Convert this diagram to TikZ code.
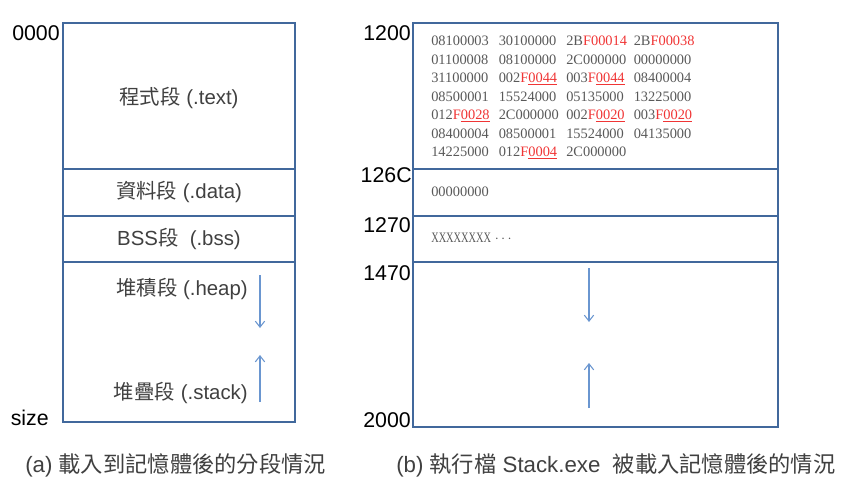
\documentclass[tikz,border=0pt]{standalone}
\usepackage{fontspec}
\setmainfont{Liberation Sans}
\newfontfamily\cjk{Noto Sans CJK TC}
\newfontfamily\hexfont{Liberation Serif}
\usetikzlibrary{arrows.meta}
\definecolor{boxblue}{HTML}{41689C}
\definecolor{arrblue}{HTML}{6A96D0}
\definecolor{hexgrey}{HTML}{595959}
\definecolor{hexred}{HTML}{F03535}
\definecolor{lblgrey}{HTML}{404040}
\newcommand\hexrf[1]{\textcolor{hexred}{#1}}
\newcommand\hexru[1]{\textcolor{hexred}{F\underline{#1}}}
\newcommand\zh[1]{{\cjk #1}}
\begin{document}
\begin{tikzpicture}[x=0.75pt,y=-0.75pt,
  seg/.style={draw=boxblue, line width=1.5pt},
  addr/.style={font=\fontsize{16}{19}\selectfont, anchor=base east, inner sep=0pt, text=black},
  lbl/.style={font=\fontsize{15.3}{18}\selectfont, text=lblgrey, inner sep=0pt},
  hex/.style={font=\hexfont\fontsize{10.8}{12}\selectfont, text=hexgrey, anchor=base west, inner sep=0pt},
  growarrow/.style={draw=arrblue, line width=0.8pt, -{Straight Barb[length=4.5pt,width=7pt]}},
  captiontext/.style={font=\fontsize{16.7}{19}\selectfont, text=lblgrey, inner sep=0pt, anchor=west}]
\useasboundingbox (0,0) rectangle (848,486);

% ---------- left memory map ----------
\draw[seg] (63,23) rectangle (295,169);
\draw[seg] (63,169) rectangle (295,216);
\draw[seg] (63,216) rectangle (295,262);
\draw[seg] (63,262) rectangle (295,422);

\node[addr] (l0000) at (60,40) {0000};
\node[addr] (lsize) at (49,425) {size};

\node[lbl] (ltext) at (179,98) {\zh{程式段} (.text)};
\node[lbl] (ldata) at (179,192) {\zh{資料段} (.data)};
\node[lbl] (lbss) at (179,239) {BSS\zh{段}\ \ (.bss)};
\node[lbl, anchor=east] (lheap) at (248,289) {\zh{堆積段} (.heap)};
\node[lbl, anchor=east] (lstack) at (248,393) {\zh{堆疊段} (.stack)};

\coordinate (lh1) at (260,275);
\coordinate (lh2) at (260,328);
\coordinate (ls1) at (260,402);
\coordinate (ls2) at (260,355);
\draw[growarrow] (lh1) -- (lh2);
\draw[growarrow] (ls1) -- (ls2);

\node[captiontext] (capa) at (25,465) {(a) \zh{載入到記憶體後的分段情況}};

% ---------- right memory map ----------
\draw[seg] (413,23) rectangle (778,169);
\draw[seg] (413,169) rectangle (778,216);
\draw[seg] (413,216) rectangle (778,262);
\draw[seg] (413,262) rectangle (778,427);

\node[addr] (r1200) at (411,40) {1200};
\node[addr] (r126c) at (412,182) {126C};
\node[addr] (r1270) at (411,232) {1270};
\node[addr] (r1470) at (411,280) {1470};
\node[addr] (r2000) at (411,427) {2000};

\node[hex] (h11) at (431,45.5) {08100003};
\node[hex] (h12) at (498.5,45.5) {30100000};
\node[hex] (h13) at (566,45.5) {2B\hexrf{F00014}};
\node[hex] (h14) at (633.5,45.5) {2B\hexrf{F00038}};

\node[hex] (h21) at (431,64) {01100008};
\node[hex] (h22) at (498.5,64) {08100000};
\node[hex] (h23) at (566,64) {2C000000};
\node[hex] (h24) at (633.5,64) {00000000};

\node[hex] (h31) at (431,82.5) {31100000};
\node[hex] (h32) at (498.5,82.5) {002\hexru{0044}};
\node[hex] (h33) at (566,82.5) {003\hexru{0044}};
\node[hex] (h34) at (633.5,82.5) {08400004};

\node[hex] (h41) at (431,101) {08500001};
\node[hex] (h42) at (498.5,101) {15524000};
\node[hex] (h43) at (566,101) {05135000};
\node[hex] (h44) at (633.5,101) {13225000};

\node[hex] (h51) at (431,119.5) {012\hexru{0028}};
\node[hex] (h52) at (498.5,119.5) {2C000000};
\node[hex] (h53) at (566,119.5) {002\hexru{0020}};
\node[hex] (h54) at (633.5,119.5) {003\hexru{0020}};

\node[hex] (h61) at (431,138) {08400004};
\node[hex] (h62) at (498.5,138) {08500001};
\node[hex] (h63) at (566,138) {15524000};
\node[hex] (h64) at (633.5,138) {04135000};

\node[hex] (h71) at (431,156.5) {14225000};
\node[hex] (h72) at (498.5,156.5) {012\hexru{0004}};
\node[hex] (h73) at (566,156.5) {2C000000};

\node[hex] (hdata) at (431,196.5) {00000000};
\node[hex] (hbss) at (431,242.5) {\scalebox{0.72}[1]{XXXXXXXX}\ $\cdots$};

\coordinate (rh1) at (589,268);
\coordinate (rh2) at (589,322);
\coordinate (rs1) at (589,408);
\coordinate (rs2) at (589,363);
\draw[growarrow] (rh1) -- (rh2);
\draw[growarrow] (rs1) -- (rs2);

\node[captiontext] (capb) at (396,465) {(b) \zh{執行檔} Stack.exe\ \ \zh{被載入記憶體後的情況}};
\end{tikzpicture}
\end{document}
